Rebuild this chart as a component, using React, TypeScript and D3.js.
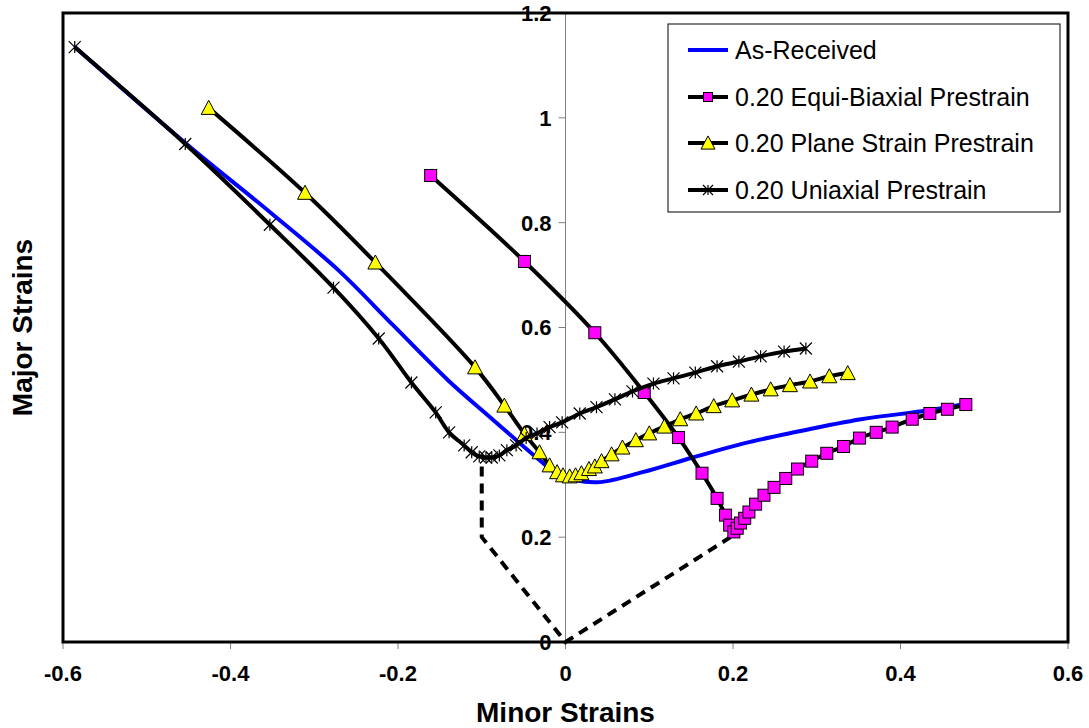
import React from "react";
import * as d3 from "d3";

type Pt = [number, number];

const asReceived: Pt[] = [
  [-0.586, 1.135], [-0.454, 0.952], [-0.352, 0.819], [-0.271, 0.709], [-0.205, 0.603],
  [-0.140, 0.499], [-0.088, 0.426], [-0.034, 0.351], [-0.012, 0.323], [0.011, 0.309],
  [0.041, 0.305], [0.092, 0.324], [0.152, 0.352], [0.213, 0.379],
  [0.273, 0.400], [0.353, 0.425], [0.434, 0.442], [0.480, 0.455],
];

const equiBiaxial: Pt[] = [
  [-0.161, 0.890], [-0.049, 0.726], [0.035, 0.590], [0.094, 0.476], [0.135, 0.390],
  [0.163, 0.322], [0.181, 0.274], [0.191, 0.242], [0.196, 0.223], [0.201, 0.210],
  [0.205, 0.217], [0.209, 0.227], [0.214, 0.236], [0.219, 0.248], [0.227, 0.263],
  [0.237, 0.280], [0.249, 0.295], [0.263, 0.312], [0.277, 0.330], [0.294, 0.345],
  [0.312, 0.360], [0.332, 0.373], [0.351, 0.389], [0.371, 0.400], [0.390, 0.410],
  [0.414, 0.425], [0.435, 0.436], [0.456, 0.444], [0.478, 0.453],
];

const planeStrain: Pt[] = [
  [-0.426, 1.019], [-0.311, 0.857], [-0.227, 0.724], [-0.108, 0.524], [-0.073, 0.451],
  [-0.049, 0.397], [-0.031, 0.362], [-0.019, 0.337], [-0.010, 0.324], [-0.003, 0.318],
  [0.005, 0.316], [0.012, 0.318], [0.019, 0.322], [0.028, 0.330], [0.035, 0.335],
  [0.043, 0.345], [0.055, 0.358], [0.068, 0.371], [0.084, 0.385], [0.100, 0.398],
  [0.118, 0.411], [0.137, 0.425], [0.156, 0.436], [0.177, 0.450], [0.199, 0.461],
  [0.222, 0.472], [0.245, 0.482], [0.268, 0.490], [0.292, 0.497], [0.315, 0.507],
  [0.337, 0.513],
];

const uniaxial: Pt[] = [
  [-0.586, 1.135], [-0.454, 0.950], [-0.353, 0.796], [-0.277, 0.676], [-0.223, 0.579],
  [-0.184, 0.495], [-0.155, 0.438], [-0.139, 0.400], [-0.121, 0.375], [-0.112, 0.362],
  [-0.103, 0.354], [-0.095, 0.352], [-0.088, 0.352], [-0.079, 0.356], [-0.070, 0.366],
  [-0.059, 0.375], [-0.047, 0.389], [-0.034, 0.398], [-0.019, 0.410], [-0.004, 0.419],
  [0.017, 0.436], [0.037, 0.448], [0.059, 0.463], [0.080, 0.478], [0.105, 0.493],
  [0.129, 0.503], [0.155, 0.514], [0.181, 0.526], [0.207, 0.535], [0.233, 0.545],
  [0.261, 0.554], [0.287, 0.560],
];

const dashedPath: Pt[] = [[-0.100, 0.335], [-0.100, 0.200], [0.0, 0.0], [0.197, 0.200]];

const xTicks = [-0.6, -0.4, -0.2, 0, 0.2, 0.4, 0.6];
const yTicks = [0, 0.2, 0.4, 0.6, 0.8, 1, 1.2];

const legendLabels = [
  "As-Received",
  "0.20 Equi-Biaxial Prestrain",
  "0.20 Plane Strain Prestrain",
  "0.20 Uniaxial Prestrain",
];

const W = 1089;
const H = 728;
const left = 63, right = 1068, top = 13, bottom = 642;

const x = d3.scaleLinear().domain([-0.6, 0.6]).range([left, right]);
const y = d3.scaleLinear().domain([0, 1.2]).range([bottom, top]);

const smooth = d3.line<Pt>().x(d => x(d[0])).y(d => y(d[1])).curve(d3.curveCatmullRom.alpha(0.5));
const straight = d3.line<Pt>().x(d => x(d[0])).y(d => y(d[1]));

const fontFamily = "Arial, 'Liberation Sans', Helvetica, sans-serif";

function Square({ cx, cy, s = 12 }: { cx: number; cy: number; s?: number }) {
  return <rect x={cx - s / 2} y={cy - s / 2} width={s} height={s} fill="#FF00FF" stroke="#000" strokeWidth={1} />;
}
function Tri({ cx, cy, s = 15 }: { cx: number; cy: number; s?: number }) {
  const h = s * 0.87;
  const p = `M${cx},${cy - h / 2 - 1}L${cx + s / 2},${cy + h / 2}L${cx - s / 2},${cy + h / 2}Z`;
  return <path d={p} fill="#FFFF00" stroke="#000" strokeWidth={1} />;
}
function Star({ cx, cy, s = 12 }: { cx: number; cy: number; s?: number }) {
  const r = s / 2;
  return (
    <path
      d={`M${cx - r},${cy - r}L${cx + r},${cy + r}M${cx - r},${cy + r}L${cx + r},${cy - r}M${cx},${cy - r}L${cx},${cy + r}`}
      stroke="#000"
      strokeWidth={1.2}
      fill="none"
    />
  );
}

export default function App() {
  const legendX = 668, legendY = 24, legendW = 392, legendH = 188;
  const rowY = [50, 97, 143, 190];
  return (
    <svg width={W} height={H} style={{ position: "absolute", left: 0, top: 0, background: "#fff" }} fontFamily={fontFamily}>
      <rect x={0} y={0} width={W} height={H} fill="#fff" />
      {/* y axis at x=0 */}
      <line x1={x(0)} x2={x(0)} y1={top} y2={bottom} stroke="#808080" strokeWidth={1} />
      {yTicks.map(t => (
        <g key={"yt" + t}>
          <line x1={x(0) - 7} x2={x(0)} y1={y(t)} y2={y(t)} stroke="#808080" strokeWidth={1} />
          <text x={x(0) - 14} y={y(t)} dy="0.36em" textAnchor="end" fontWeight="bold" fontSize={22}>
            {String(t)}
          </text>
        </g>
      ))}
      {/* x ticks */}
      {xTicks.map(t => (
        <g key={"xt" + t}>
          <line x1={x(t)} x2={x(t)} y1={bottom} y2={bottom + 7} stroke="#808080" strokeWidth={1} />
          <text x={x(t)} y={bottom + 31} dy="0.36em" textAnchor="middle" fontWeight="bold" fontSize={22}>
            {t === 0 ? "0" : String(t)}
          </text>
        </g>
      ))}
      {/* dashed */}
      <path d={straight(dashedPath) || ""} fill="none" stroke="#000" strokeWidth={4} strokeDasharray="10,7" />
      {/* series */}
      <path d={smooth(asReceived) || ""} fill="none" stroke="#0000FF" strokeWidth={4} />
      <path d={smooth(equiBiaxial) || ""} fill="none" stroke="#000" strokeWidth={4} />
      {equiBiaxial.map((d, i) => <Square key={"sq" + i} cx={x(d[0])} cy={y(d[1])} />)}
      <path d={smooth(planeStrain) || ""} fill="none" stroke="#000" strokeWidth={4} />
      {planeStrain.map((d, i) => <Tri key={"tr" + i} cx={x(d[0])} cy={y(d[1])} />)}
      <path d={smooth(uniaxial) || ""} fill="none" stroke="#000" strokeWidth={4} />
      {uniaxial.map((d, i) => <Star key={"st" + i} cx={x(d[0])} cy={y(d[1])} />)}
      {/* frame */}
      <rect x={left} y={top} width={right - left} height={bottom - top} fill="none" stroke="#000" strokeWidth={3} />
      {/* legend */}
      <rect x={legendX} y={legendY} width={legendW} height={legendH} fill="#fff" stroke="#000" strokeWidth={1} />
      {legendLabels.map((lab, i) => (
        <g key={"lg" + i}>
          <line x1={688} x2={728} y1={rowY[i]} y2={rowY[i]} stroke={i === 0 ? "#0000FF" : "#000"} strokeWidth={4} />
          {i === 1 && <Square cx={708} cy={rowY[i]} s={9} />}
          {i === 2 && <Tri cx={708} cy={rowY[i]} s={14} />}
          {i === 3 && <Star cx={708} cy={rowY[i]} s={10} />}
          <text x={735} y={rowY[i]} dy="0.36em" fontSize={25}>{lab}</text>
        </g>
      ))}
      {/* axis titles */}
      <text x={(left + right) / 2} y={712} dy="0.36em" textAnchor="middle" fontWeight="bold" fontSize={28}>
        Minor Strains
      </text>
      <text transform={`translate(22,${(top + bottom) / 2}) rotate(-90)`} dy="0.36em" textAnchor="middle" fontWeight="bold" fontSize={28}>
        Major Strains
      </text>
    </svg>
  );
}
